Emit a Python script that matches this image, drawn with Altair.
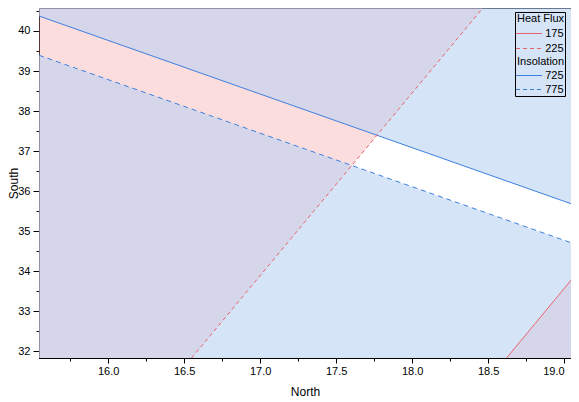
import altair as alt
import pandas as pd

# ---- data ----
x_edges = [15.545, 19.045]            # North at left / right plot edges
ins725_south = [40.374, 35.686]       # Insolation 725 (solid blue) at x_edges
ins775_south = [39.394, 34.713]       # Insolation 775 (dashed blue) at x_edges
y_edges = [31.833, 40.574]            # South at bottom / top plot edges
hf225_north = [16.549, 18.465]        # Heat Flux 225 (dashed red) at y_edges
hf175_north = [18.621, 20.530]        # Heat Flux 175 (solid red) at y_edges

x_major = [16.0, 16.5, 17.0, 17.5, 18.0, 18.5, 19.0]
x_minor = [15.75, 16.25, 16.75, 17.25, 17.75, 18.25, 18.75]
y_major = [32, 33, 34, 35, 36, 37, 38, 39, 40]
y_minor = [32.5, 33.5, 34.5, 35.5, 36.5, 37.5, 38.5, 39.5, 40.5]

legend_groups = ["Heat Flux", "Insolation"]
heat_labels = ["175", "225"]
ins_labels = ["725", "775"]

RED = "#E8646C"
BLUE = "#3C7FE0"
RED_FILL = "#F69EA1"
BLUE_FILL = "#B8D0F1"
FONT = "Liberation Sans"

W, H = 532, 350

xs = alt.Scale(domain=x_edges, nice=False, zero=False)
ys = alt.Scale(domain=y_edges, nice=False, zero=False)

ins_df = pd.DataFrame({"north": x_edges, "s725": ins725_south, "s775": ins775_south})
hf_df = pd.DataFrame({"south": y_edges, "n225": hf225_north, "n175": hf175_north})
corner_df = pd.DataFrame({"north": x_edges, "south": y_edges})

# heat-flux violation areas (horizontal areas)
hf_left = alt.Chart(hf_df).mark_area(orient="horizontal", color=RED_FILL, opacity=0.35, clip=True).encode(
    y=alt.Y("south:Q", scale=ys, axis=None),
    x=alt.X("n225:Q", scale=xs, axis=None),
    x2=alt.datum(x_edges[0]),
)
hf_right = alt.Chart(hf_df).mark_area(orient="horizontal", color=RED_FILL, opacity=0.35, clip=True).encode(
    y=alt.Y("south:Q", scale=ys, axis=None),
    x=alt.X("n175:Q", scale=xs, axis=None),
    x2=alt.datum(x_edges[1] + 2),
)
# insolation violation areas
ins_top = alt.Chart(ins_df).mark_area(color=BLUE_FILL, opacity=0.58, clip=True).encode(
    x=alt.X("north:Q", scale=xs, axis=None),
    y=alt.Y("s725:Q", scale=ys, axis=None),
    y2=alt.datum(y_edges[1]),
)
ins_bot = alt.Chart(ins_df).mark_area(color=BLUE_FILL, opacity=0.58, clip=True).encode(
    x=alt.X("north:Q", scale=xs, axis=None),
    y=alt.Y("s775:Q", scale=ys, axis=None),
    y2=alt.datum(y_edges[0]),
)

# lines
l725 = alt.Chart(ins_df).mark_line(color=BLUE, strokeWidth=1, clip=True).encode(
    x=alt.X("north:Q", scale=xs, axis=None), y=alt.Y("s725:Q", scale=ys, axis=None))
l775 = alt.Chart(ins_df).mark_line(color=BLUE, strokeWidth=1, strokeDash=[5, 4], clip=True).encode(
    x=alt.X("north:Q", scale=xs, axis=None), y=alt.Y("s775:Q", scale=ys, axis=None))
l225 = alt.Chart(hf_df).mark_line(color=RED, strokeWidth=1, strokeDash=[4, 3], clip=True).encode(
    y=alt.Y("south:Q", scale=ys, axis=None), x=alt.X("n225:Q", scale=xs, axis=None), order="south:Q")
l175 = alt.Chart(hf_df).mark_line(color=RED, strokeWidth=1, clip=True).encode(
    y=alt.Y("south:Q", scale=ys, axis=None), x=alt.X("n175:Q", scale=xs, axis=None), order="south:Q")

# axes (major)
axes_major = alt.Chart(corner_df).mark_point(opacity=0).encode(
    x=alt.X("north:Q", scale=xs, title="North",
            axis=alt.Axis(values=x_major, format=".1f", orient="bottom", tickSize=5, labelPadding=2,
                          labelFlush=9, titlePadding=10, grid=False)),
    y=alt.Y("south:Q", scale=ys, title="South",
            axis=alt.Axis(values=y_major, format="d", orient="left", tickSize=6, labelPadding=3,
                          titleX=-22, titleY=H / 2, titleAngle=270, titleAlign="center",
                          titleBaseline="alphabetic", grid=False)),
)
# axes (minor ticks)
axes_minor = alt.Chart(corner_df).mark_point(opacity=0).encode(
    x=alt.X("north:Q", scale=xs, title=None,
            axis=alt.Axis(values=x_minor, labels=False, orient="bottom", tickSize=3, domain=False, grid=False)),
    y=alt.Y("south:Q", scale=ys, title=None,
            axis=alt.Axis(values=y_minor, labels=False, orient="left", tickSize=3, domain=False, grid=False)),
)

# legend (manual)
one = alt.Data(values=[{}])
leg_layers = []
leg_layers.append(alt.Chart(one).mark_rect(fill=None, stroke="black", strokeWidth=1).encode(
    x=alt.value(476.5), x2=alt.value(526.5), y=alt.value(4.5), y2=alt.value(88.5)))
rows = [
    ("title", legend_groups[0], None, None, 11),
    ("entry", heat_labels[0], RED, None, 25.5),
    ("entry", heat_labels[1], RED, [4, 3], 40.5),
    ("title", legend_groups[1], None, None, 54),
    ("entry", ins_labels[0], BLUE, None, 67.5),
    ("entry", ins_labels[1], BLUE, [4, 3], 81.5),
]
for kind, label, col, dash, ypix in rows:
    if kind == "title":
        leg_layers.append(alt.Chart(one).mark_text(text=label, align="left", baseline="middle",
                                                  font=FONT, fontSize=11, color="black").encode(
            x=alt.value(478), y=alt.value(ypix)))
    else:
        kw = dict(color=col, strokeWidth=1)
        if dash:
            kw["strokeDash"] = dash
        leg_layers.append(alt.Chart(one).mark_rule(**kw).encode(
            x=alt.value(477), x2=alt.value(503), y=alt.value(ypix)))
        leg_layers.append(alt.Chart(one).mark_text(text=label, align="right", baseline="middle",
                                                  font=FONT, fontSize=11, color="black").encode(
            x=alt.value(524.5), y=alt.value(ypix)))

chart = alt.layer(
    hf_left, hf_right, ins_top, ins_bot, l725, l775, l225, l175, axes_major, axes_minor, *leg_layers
).resolve_axis(x="independent", y="independent").properties(
    width=W, height=H,
    autosize=alt.AutoSizeParams(type="none"),
    padding={"left": 31, "top": 0, "right": 0, "bottom": 44},
).configure_view(
    stroke="black", strokeWidth=1
).configure_axis(
    domainColor="black", tickColor="black", labelColor="black", titleColor="black",
    labelFont=FONT, titleFont=FONT, labelFontSize=11, titleFontSize=12, titleFontWeight="normal",
    domainWidth=1, tickWidth=1
)

chart.save("out.html", embed_options={"renderer": "svg", "actions": False})
